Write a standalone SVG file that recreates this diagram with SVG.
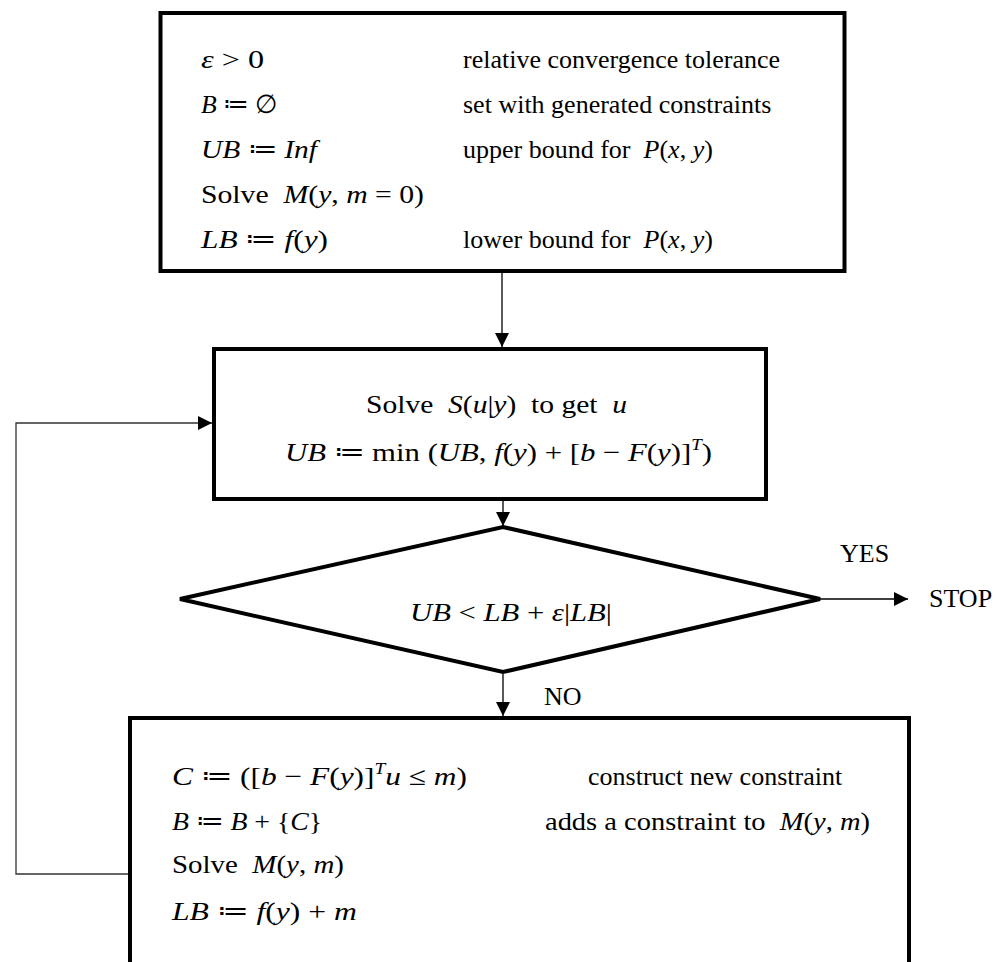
<svg xmlns="http://www.w3.org/2000/svg" width="1005" height="962" viewBox="0 0 1005 962">
<defs>
<style>
.box{fill:#fff;stroke:#000;stroke-width:4}
.ln{fill:none;stroke:#000;stroke-width:1.3}
.fb{fill:none;stroke:#333;stroke-width:1.3}
text{font-family:"Liberation Serif","Times New Roman",serif;font-size:26px;fill:#000}
.i{font-style:italic}
.sup{font-size:16px;font-style:italic}
</style>
<marker id="ah" markerUnits="userSpaceOnUse" viewBox="0 0 14 14" markerWidth="14" markerHeight="14" refX="14" refY="7" orient="auto">
<path d="M0,0 L14,7 L0,14 z" fill="#000"/>
</marker>
</defs>
<rect width="1005" height="962" fill="#fff"/>

<g id="connectors">
<line class="ln" x1="502" y1="273" x2="502" y2="347" marker-end="url(#ah)"/>
<line class="ln" x1="503" y1="501" x2="503" y2="526" marker-end="url(#ah)"/>
<line class="ln" x1="820" y1="599" x2="908" y2="599" marker-end="url(#ah)"/>
<line class="ln" x1="503" y1="674" x2="503" y2="716" marker-end="url(#ah)"/>
<polyline class="fb" points="130,874 16,874 16,423 212,423" marker-end="url(#ah)"/>
<text x="840" y="562">YES</text>
<text x="929" y="607">STOP</text>
<text x="544" y="705">NO</text>
</g>

<g id="init">
<rect class="box" x="160.5" y="13" width="684" height="258"/>
<text x="201" y="68" textLength="63" lengthAdjust="spacingAndGlyphs"><tspan class="i">ε</tspan> &gt; 0</text>
<text x="201" y="113" textLength="77" lengthAdjust="spacingAndGlyphs"><tspan class="i">B</tspan> ≔ ∅</text>
<text x="201" y="158" textLength="116" lengthAdjust="spacingAndGlyphs"><tspan class="i">UB</tspan> ≔ <tspan class="i">Inf</tspan></text>
<text x="201" y="203" textLength="223" lengthAdjust="spacingAndGlyphs">Solve&#160; <tspan class="i">M</tspan>(<tspan class="i">y</tspan>, <tspan class="i">m</tspan> = 0)</text>
<text x="201" y="248" textLength="127" lengthAdjust="spacingAndGlyphs"><tspan class="i">LB</tspan> ≔ <tspan class="i">f</tspan>(<tspan class="i">y</tspan>)</text>
<text x="463" y="68">relative convergence tolerance</text>
<text x="463" y="113">set with generated constraints</text>
<text x="463" y="158">upper bound for&#160; <tspan class="i">P</tspan>(<tspan class="i">x</tspan>, <tspan class="i">y</tspan>)</text>
<text x="463" y="248">lower bound for&#160; <tspan class="i">P</tspan>(<tspan class="i">x</tspan>, <tspan class="i">y</tspan>)</text>
</g>

<g id="subproblem">
<rect class="box" x="214" y="349" width="552" height="150"/>
<text x="366" y="413" textLength="261" lengthAdjust="spacingAndGlyphs">Solve&#160; <tspan class="i">S</tspan>(<tspan class="i">u</tspan>|<tspan class="i">y</tspan>)&#160; to get&#160; <tspan class="i">u</tspan></text>
<text x="285" y="461" textLength="427" lengthAdjust="spacingAndGlyphs"><tspan class="i">UB</tspan> ≔ min (<tspan class="i">UB</tspan>, <tspan class="i">f</tspan>(<tspan class="i">y</tspan>) + [<tspan class="i">b</tspan> − <tspan class="i">F</tspan>(<tspan class="i">y</tspan>)]<tspan class="sup" dy="-11">T</tspan><tspan dy="11">)</tspan></text>
</g>

<g id="check">
<polygon class="box" points="503,527 820,599 503,672 180,599"/>
<text x="410" y="621" textLength="202" lengthAdjust="spacingAndGlyphs"><tspan class="i">UB</tspan> &lt; <tspan class="i">LB</tspan> + <tspan class="i">ε</tspan>|<tspan class="i">LB</tspan>|</text>
</g>

<g id="master">
<rect class="box" x="130" y="718" width="779" height="270"/>
<text x="172" y="785" textLength="295" lengthAdjust="spacingAndGlyphs"><tspan class="i">C</tspan> ≔ ([<tspan class="i">b</tspan> − <tspan class="i">F</tspan>(<tspan class="i">y</tspan>)]<tspan class="sup" dy="-11">T</tspan><tspan class="i" dy="11">u</tspan> ≤ <tspan class="i">m</tspan>)</text>
<text x="172" y="830" textLength="150" lengthAdjust="spacingAndGlyphs"><tspan class="i">B</tspan> ≔ <tspan class="i">B</tspan> + {<tspan class="i">C</tspan>}</text>
<text x="172" y="873" textLength="172" lengthAdjust="spacingAndGlyphs">Solve&#160; <tspan class="i">M</tspan>(<tspan class="i">y</tspan>, <tspan class="i">m</tspan>)</text>
<text x="172" y="920" textLength="185" lengthAdjust="spacingAndGlyphs"><tspan class="i">LB</tspan> ≔ <tspan class="i">f</tspan>(<tspan class="i">y</tspan>) + <tspan class="i">m</tspan></text>
<text x="588" y="785">construct new constraint</text>
<text x="545" y="830" textLength="325" lengthAdjust="spacingAndGlyphs">adds a constraint to&#160; <tspan class="i">M</tspan>(<tspan class="i">y</tspan>, <tspan class="i">m</tspan>)</text>
</g>
</svg>
